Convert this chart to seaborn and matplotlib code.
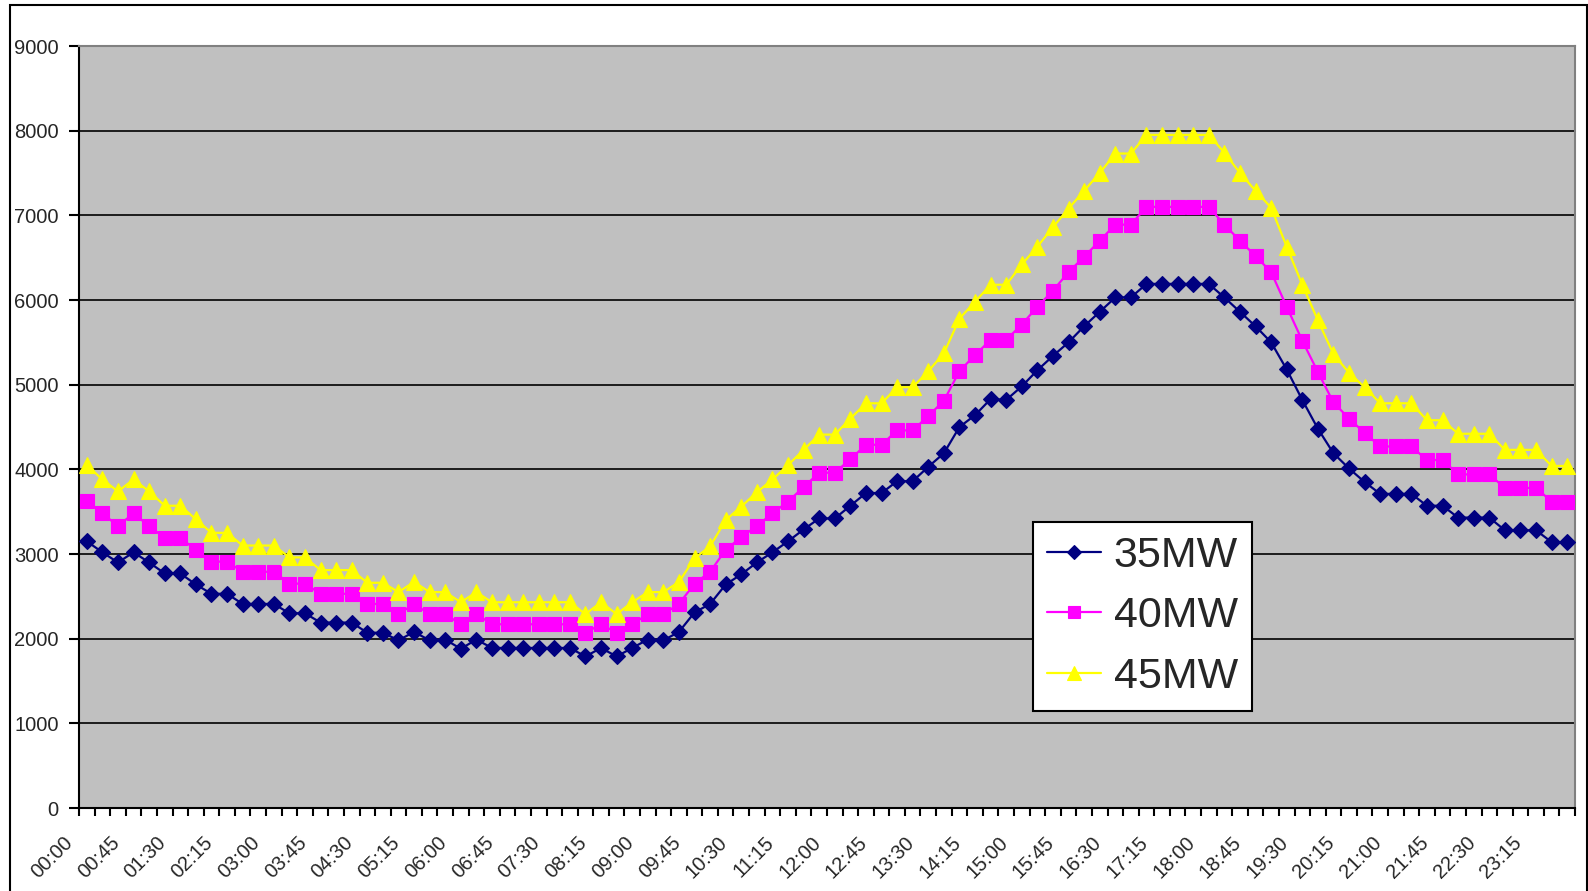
import matplotlib
matplotlib.use("Agg")
import matplotlib.pyplot as plt
import matplotlib.transforms as mtransforms
from matplotlib.patches import Rectangle
import seaborn as sns
import pandas as pd
import numpy as np

# ---------------- data ----------------
times = [f"{(i * 15) // 60:02d}:{(i * 15) % 60:02d}" for i in range(96)]

mw35 = [3150, 3020, 2900, 3020, 2900, 2770, 2770, 2640, 2530, 2530,
        2410, 2410, 2410, 2300, 2300, 2190, 2190, 2190, 2070, 2070,
        1980, 2080, 1980, 1990, 1880, 1990, 1890, 1890, 1890, 1890,
        1890, 1890, 1790, 1890, 1790, 1890, 1990, 1980, 2080, 2310,
        2410, 2640, 2760, 2900, 3020, 3150, 3290, 3420, 3420, 3570,
        3720, 3720, 3860, 3860, 4030, 4190, 4500, 4640, 4830, 4820,
        4980, 5170, 5340, 5500, 5690, 5860, 6030, 6030, 6190, 6190,
        6190, 6190, 6190, 6030, 5860, 5690, 5500, 5180, 4820, 4480,
        4190, 4010, 3850, 3710, 3710, 3710, 3570, 3570, 3430, 3430,
        3430, 3280, 3280, 3280, 3140, 3140]

mw40 = [3630, 3480, 3330, 3480, 3330, 3190, 3190, 3050, 2910, 2910,
        2790, 2790, 2790, 2650, 2650, 2530, 2530, 2530, 2410, 2410,
        2290, 2410, 2290, 2290, 2170, 2290, 2170, 2170, 2170, 2170,
        2170, 2170, 2070, 2170, 2070, 2170, 2290, 2290, 2410, 2650,
        2790, 3050, 3200, 3330, 3480, 3620, 3790, 3960, 3960, 4120,
        4290, 4290, 4460, 4460, 4630, 4810, 5160, 5350, 5530, 5530,
        5710, 5920, 6110, 6330, 6510, 6700, 6890, 6890, 7100, 7100,
        7100, 7100, 7100, 6890, 6700, 6520, 6330, 5920, 5520, 5150,
        4790, 4600, 4430, 4270, 4270, 4270, 4110, 4110, 3940, 3940,
        3940, 3780, 3780, 3780, 3620, 3620]

mw45 = [4050, 3880, 3740, 3880, 3740, 3570, 3570, 3410, 3250, 3250,
        3100, 3100, 3100, 2960, 2960, 2810, 2810, 2810, 2660, 2660,
        2550, 2670, 2550, 2550, 2430, 2550, 2430, 2430, 2430, 2430,
        2430, 2430, 2290, 2430, 2290, 2430, 2550, 2550, 2670, 2950,
        3090, 3400, 3560, 3730, 3880, 4050, 4230, 4410, 4410, 4600,
        4780, 4780, 4970, 4970, 5160, 5370, 5780, 5980, 6180, 6180,
        6420, 6630, 6860, 7080, 7290, 7500, 7730, 7730, 7950, 7950,
        7950, 7950, 7950, 7740, 7500, 7290, 7090, 6630, 6180, 5760,
        5360, 5140, 4970, 4780, 4780, 4780, 4580, 4580, 4420, 4420,
        4420, 4230, 4230, 4230, 4040, 4040]

series_names = ["35MW", "40MW", "45MW"]
series_values = [mw35, mw40, mw45]
series_colors = ["#000080", "#FF00FF", "#FFFF00"]
series_markers = ["D", "s", "^"]
series_msizes = [8.0, 10.0, 11.0]

y_ticks = list(range(0, 9001, 1000))
label_step = 3

# ---------------- figure ----------------
sns.set_style("white")
plt.rcParams["font.family"] = ["Liberation Sans", "DejaVu Sans"]

W, H = 1588, 891
fig = plt.figure(figsize=(W / 100, H / 100), dpi=100)
fig.patch.set_facecolor("white")

# outer chart border
fig.patches.append(Rectangle((10 / W, -5 / H), (1587 - 10) / W, (891 - 5 + 5) / H,
                             transform=fig.transFigure, fill=False,
                             edgecolor="black", linewidth=1.5, zorder=0))

left, right, top, bottom = 79, 1575, 46, 808
ax = fig.add_axes([left / W, (H - bottom) / H, (right - left) / W, (bottom - top) / H])
ax.set_facecolor("#C0C0C0")

n = len(times)
df = pd.DataFrame({"idx": np.arange(n), "time": times})
for name, vals, col, mk, ms in zip(series_names, series_values, series_colors,
                                   series_markers, series_msizes):
    d = df.copy()
    d["value"] = vals
    sns.lineplot(data=d, x="idx", y="value", ax=ax, color=col, marker=mk,
                 markersize=ms, markeredgecolor=col, markeredgewidth=0.8,
                 linewidth=1.6, label=name, zorder=3)
    ln = ax.lines[-1]
    ln.set_marker(mk)
    ln.set_markersize(ms)
    ln.set_markerfacecolor(col)
    ln.set_markeredgecolor(col)

ax.set_xlim(-0.5, n - 0.5)
ax.set_ylim(0, 9000)
ax.set_xlabel("")
ax.set_ylabel("")

# grid
ax.set_yticks(y_ticks)
ax.yaxis.grid(True, color="black", linewidth=1.2, zorder=1)
ax.xaxis.grid(False)
ax.set_axisbelow(True)

# y tick labels
ax.set_yticklabels([str(v) for v in y_ticks], fontsize=14.5)
ax.tick_params(axis="y", direction="out", length=7, width=1.5, color="black", pad=7.5, left=True)

# x ticks: boundaries (minor) with marks, labels at category centres
ax.set_xticks(np.arange(-0.5, n, 1.0), minor=True)
lab_pos = list(range(0, n, label_step))
ax.set_xticks(lab_pos)
ax.set_xticklabels([times[i] for i in lab_pos], rotation=45, ha="right", va="center",
                   rotation_mode="anchor", fontsize=14.5)
ax.tick_params(axis="x", which="major", length=0, pad=23)
ax.tick_params(axis="x", which="minor", direction="out", length=6, width=1.5, color="black", bottom=True)
offset = mtransforms.ScaledTranslation(-17 / 100, 0, fig.dpi_scale_trans)
for lbl in ax.get_xticklabels():
    lbl.set_transform(lbl.get_transform() + offset)

# spines
for s in ["left", "bottom"]:
    ax.spines[s].set_color("black")
    ax.spines[s].set_linewidth(1.5)
for s in ["top", "right"]:
    ax.spines[s].set_color("#808080")
    ax.spines[s].set_linewidth(1.5)
    ax.spines[s].set_visible(True)

# legend
leg = ax.legend(loc="upper left", bbox_to_anchor=(1033 / W, (H - 522) / H),
                bbox_transform=fig.transFigure, fontsize=31, frameon=True,
                fancybox=False, shadow=False, borderpad=0.32, handlelength=1.25,
                handletextpad=0.3, labelspacing=0.48, borderaxespad=0, framealpha=1,
                markerscale=0.9)
leg.get_frame().set_edgecolor("black")
leg.get_frame().set_linewidth(1.5)
leg.get_frame().set_facecolor("white")
leg.set_zorder(5)

fig.savefig("out.png", dpi=100)
